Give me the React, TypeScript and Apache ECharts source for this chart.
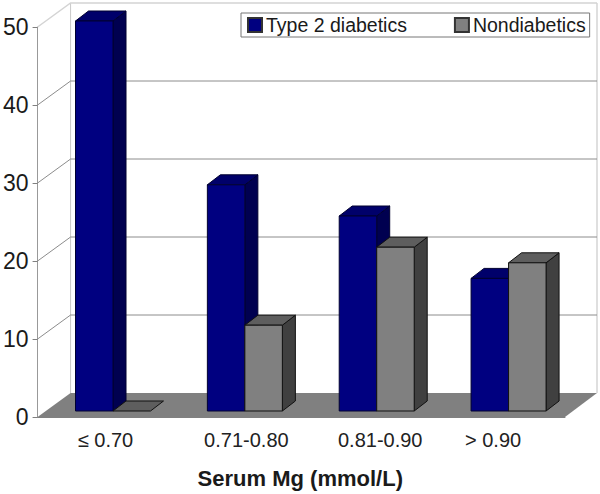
import React, { useEffect, useRef } from "react";
import * as echarts from "echarts";

const categories = ["≤ 0.70", "0.71-0.80", "0.81-0.90", "> 0.90"];
const diabetics = [50, 29, 25, 17];
const nondiabetics = [0, 11, 21, 19];
const yTicks = [0, 10, 20, 30, 40, 50];
const seriesNames = ["Type 2 diabetics", "Nondiabetics"];
const FONT = '"Liberation Sans", Arial, sans-serif';

const DEPTH_X = 33;
const DEPTH_Y = 24;
const BAR_W = 37.5;
const BAR_DX = 13;
const BAR_DY = 10;
const LIFT = 6;
const SHIFT = 9.5;
// the reference's category labels sit off-centre; [left, right] text padding per label
const labelPad = [[4, 0], [22, 0], [26, 0], [0, 12]];

function barRender(side: number, front: string, top: string, dark: string, edge: string) {
  return (_p: any, api: any) => {
    const cat = api.value(0);
    const val = api.value(1);
    const [cx, yv] = api.coord([cat, val]);
    const x0 = cx + SHIFT + (side === 0 ? -BAR_W : 0);
    const x1 = x0 + BAR_W;
    const yB = api.coord([cat, 0])[1] - LIFT;
    const yT = yv - LIFT;
    const st = (fill: string) => ({ fill, stroke: edge, lineWidth: 1, lineJoin: "round" });
    const children: any[] = [];
    if (val > 0) {
      children.push({
        type: "polygon",
        shape: { points: [[x1, yB], [x1 + BAR_DX, yB - BAR_DY], [x1 + BAR_DX, yT - BAR_DY], [x1, yT]] },
        style: st(dark),
      });
      children.push({
        type: "polygon",
        shape: { points: [[x0, yT], [x0 + BAR_DX, yT - BAR_DY], [x1 + BAR_DX, yT - BAR_DY], [x1, yT]] },
        style: st(top),
      });
      children.push({ type: "rect", shape: { x: x0, y: yT, width: BAR_W, height: yB - yT }, style: st(front) });
    } else {
      children.push({
        type: "polygon",
        shape: { points: [[x0, yT], [x0 + BAR_DX, yT - BAR_DY], [x1 + BAR_DX, yT - BAR_DY], [x1, yT]] },
        style: st(top),
      });
    }
    return { type: "group", children };
  };
}

function wallRender(params: any, api: any) {
  const v = api.value(1);
  const cs = params.coordSys;
  const y = api.coord([0, v])[1];
  const L = cs.x;
  const R = cs.x + cs.width;
  const children: any[] = [];
  if (v === 0) {
    children.push({
      type: "polygon",
      shape: { points: [[L, y], [L + DEPTH_X, y - DEPTH_Y], [R + DEPTH_X - 1, y - DEPTH_Y], [R, y]] },
      style: { fill: "#808080", stroke: "none" },
    });
    children.push({
      type: "polyline",
      shape: { points: [[L + DEPTH_X, y - DEPTH_Y], [L + DEPTH_X, cs.y - DEPTH_Y]] },
      style: { stroke: "#c8c8c8", lineWidth: 1, fill: "none" },
    });
    children.push({
      type: "polyline",
      shape: { points: [[R + DEPTH_X - 1, y - DEPTH_Y], [R + DEPTH_X - 1, cs.y - DEPTH_Y]] },
      style: { stroke: "#d4d4d4", lineWidth: 1.5, fill: "none" },
    });
  } else {
    const top = v === 50;
    const col = top ? "#d4d4d4" : "#8c8c8c";
    children.push({
      type: "polyline",
      shape: { points: [[L, y], [L + DEPTH_X, y - DEPTH_Y], [R + DEPTH_X - 1, y - DEPTH_Y]] },
      style: { stroke: col, lineWidth: top ? 1.5 : 1, fill: "none" },
    });
  }
  return { type: "group", children };
}

export default function App() {
  const ref = useRef<HTMLDivElement>(null);
  useEffect(() => {
    document.body.style.margin = "0";
    const chart = echarts.init(ref.current!, undefined, { renderer: "svg" });
    chart.setOption({
      animation: false,
      backgroundColor: "#ffffff",
      grid: { left: 37, top: 27, width: 528, height: 390, containLabel: false },
      legend: {
        data: seriesNames,
        left: 241,
        top: 13,
        padding: [2, 4, 2, 6],
        itemWidth: 14,
        itemHeight: 14,
        itemGap: 47,
        icon: "rect",
        borderColor: "#777777",
        borderWidth: 1,
        backgroundColor: "#ffffff",
        textStyle: { fontFamily: FONT, fontSize: 19.5, color: "#1a1a1a", padding: [0, 0, 0, -1] },
      },
      xAxis: {
        type: "category",
        data: categories.map((value, i) => ({
          value,
          textStyle: { padding: [0, labelPad[i][1], 0, labelPad[i][0]] },
        })),
        name: "Serum Mg (mmol/L)",
        nameLocation: "middle",
        nameGap: 50,
        nameTextStyle: { fontFamily: FONT, fontSize: 22, fontWeight: "bold", color: "#1a1a1a", padding: [0, 2, 0, 0] },
        axisLine: { lineStyle: { color: "#808080", width: 1 } },
        axisTick: { length: 5, lineStyle: { color: "#808080" }, alignWithLabel: false },
        axisLabel: { fontFamily: FONT, fontSize: 20, color: "#222222", margin: 13 },
        z: 10,
      },
      yAxis: {
        type: "value",
        min: 0,
        max: 50,
        interval: 10,
        splitLine: { show: false },
        axisLine: { show: true, lineStyle: { color: "#999999", width: 1 } },
        axisTick: { show: true, length: 5, lineStyle: { color: "#808080" } },
        axisLabel: { fontFamily: FONT, fontSize: 23, color: "#1a1a1a", margin: 9 },
      },
      series: [
        {
          name: "wall",
          type: "custom",
          silent: true,
          renderItem: wallRender,
          data: yTicks.map((v) => [0, v]),
          encode: { x: 0, y: 1 },
        },
        {
          name: seriesNames[0],
          type: "custom",
          renderItem: barRender(0, "#000080", "#00006a", "#000050", "#000030"),
          itemStyle: { color: "#000080", borderColor: "#333333", borderWidth: 1 },
          data: diabetics.map((v, i) => [i, v]),
          encode: { x: 0, y: 1 },
        },
        {
          name: seriesNames[1],
          type: "custom",
          renderItem: barRender(1, "#808080", "#5e5e5e", "#404040", "#111111"),
          itemStyle: { color: "#808080", borderColor: "#333333", borderWidth: 1 },
          data: nondiabetics.map((v, i) => [i, v]),
          encode: { x: 0, y: 1 },
        },
      ],
    });
    return () => chart.dispose();
  }, []);
  return <div ref={ref} style={{ width: 600, height: 494 }} />;
}
